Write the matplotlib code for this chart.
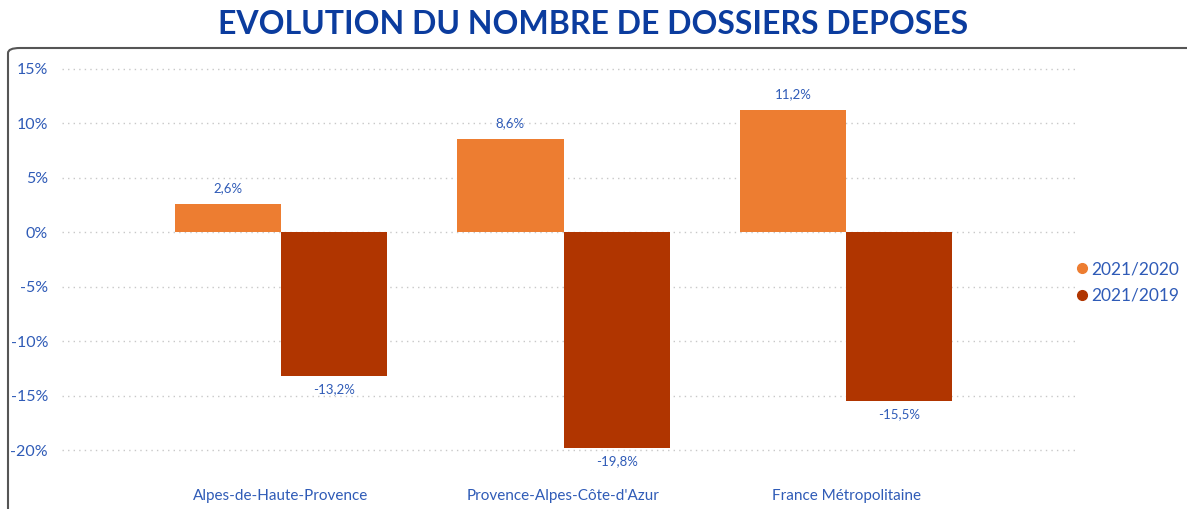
import numpy as np
import matplotlib.pyplot as plt
from matplotlib.patches import FancyBboxPatch
from matplotlib.lines import Line2D

# Data
categories = ["Alpes-de-Haute-Provence", "Provence-Alpes-Côte-d'Azur", "France Métropolitaine"]
evol_2020 = [2.6, 8.6, 11.2]
evol_2019 = [-13.2, -19.8, -15.5]
series_names = ["2021/2020", "2021/2019"]
yticks = [-20, -15, -10, -5, 0, 5, 10, 15]

plt.rcParams['font.family'] = ['Lato', 'DejaVu Sans']

c_orange = '#ED7D31'
c_dark = '#B03500'
c_text = '#2F5BB7'
c_title = '#0B3C9E'

fig = plt.figure(figsize=(11.87, 5.09), dpi=100)

# rounded frame around the chart
frame = FancyBboxPatch((8 / 1187, -0.1), 1.2, (509 - 48) / 509 + 0.1,
                       boxstyle="round,pad=0,rounding_size=0.01",
                       transform=fig.transFigure, facecolor='none',
                       edgecolor='#555555', linewidth=1.5, zorder=-1)
fig.patches.append(frame)

fig.text(0.5, 0.952, "EVOLUTION DU NOMBRE DE DOSSIERS DEPOSES", ha='center', va='center',
         fontsize=23, fontweight='bold', color=c_title)

ax = fig.add_axes([62 / 1187, 39 / 509, (1075 - 62) / 1187, 410 / 509])
ax.set_facecolor('none')

x = np.arange(len(categories))
w = 0.376
ax.bar(x - w / 2, evol_2020, w, color=c_orange, zorder=3)
ax.bar(x + w / 2, evol_2019, w, color=c_dark, zorder=3)

for i in range(len(categories)):
    ax.text(x[i] - w / 2, evol_2020[i] + 0.9, f"{evol_2020[i]:.1f}%".replace('.', ','),
            ha='center', va='bottom', fontsize=9.5, color=c_text)
    ax.text(x[i] + w / 2, evol_2019[i] - 0.6, f"{evol_2019[i]:.1f}%".replace('.', ','),
            ha='center', va='top', fontsize=9.5, color=c_text)

ax.set_xlim(-0.775, 2.81)
ax.set_ylim(-21.8, 15.8)
ax.set_yticks(yticks)
ax.set_yticklabels([f"{t}%" for t in yticks], color=c_text, fontsize=11.5)
ax.set_xticks(x)
ax.set_xticklabels(categories, color=c_text, fontsize=11)
ax.tick_params(length=0)
ax.tick_params(axis='x', pad=14)
ax.tick_params(axis='y', pad=10)
ax.grid(axis='y', linestyle=(0, (1, 3)), color='#C8C8C8', linewidth=1, zorder=0)
for s in ax.spines.values():
    s.set_visible(False)

handles = [Line2D([], [], marker='o', linestyle='none', color=c_orange, markersize=7),
           Line2D([], [], marker='o', linestyle='none', color=c_dark, markersize=7)]
leg = fig.legend(handles, series_names, loc='center left', bbox_to_anchor=(1075 / 1187, 0.445),
                 frameon=False, handletextpad=0.15, labelspacing=0.6, fontsize=12.5,
                 handlelength=0.8, borderpad=0, borderaxespad=0)
for t in leg.get_texts():
    t.set_color(c_text)

fig.savefig("out.png", dpi=100)
